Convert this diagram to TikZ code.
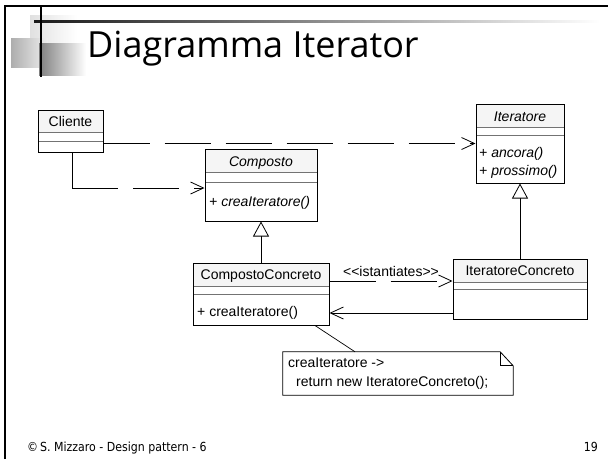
\documentclass[tikz,border=0pt]{standalone}
\usepackage{fontspec}
\setmainfont{Liberation Sans}
\newfontfamily\titlefont{Open Sans}
\newfontfamily\footfont{DejaVu Sans}
\usetikzlibrary{arrows.meta,calc,fit}

% UML class box: name, x1, y1, x2, y2, first separator, second separator
\newcommand{\umlclass}[7]{%
  \fill[namefill] (#2,#3) rectangle (#4,#6);
  \draw[sepline] (#2,#6) -- (#4,#6);
  \draw[sepline] (#2,#7) -- (#4,#7);
  \node[umlbox, fit={(#2,#3) (#4,#5)}] (#1) {};
}

\begin{document}
\begin{tikzpicture}[x=1pt,y=-1pt,
  umlbox/.style={draw=black, line width=1pt, inner sep=0pt},
  namefill/.style={fill=black!4},
  sepline/.style={draw=black!55, line width=0.9pt},
  umltext/.style={inner sep=0pt, font=\fontsize{14}{18}\selectfont},
  umlitalic/.style={umltext, font=\fontsize{14}{18}\selectfont\itshape},
  barb/.style={-{Straight Barb[length=13pt,width=12pt,line width=0.8pt]}},
  dep/.style={draw=black, line width=0.8pt, dash pattern=on 46pt off 15pt},
  assoc/.style={draw=black, line width=0.8pt, barb},
  gen/.style={draw=black, line width=0.8pt,
    -{Triangle[open, length=15pt, width=16pt, fill=white, line width=0.8pt]}},
]
\useasboundingbox (0,0) rectangle (608,459);

% slide decoration
\shade[left color=black!12, right color=white] (30,15) rectangle (77,45);
\shade[left color=black!32, right color=black!6] (11,38) rectangle (48,67);
\shade[left color=black!50, right color=white] (39,43) rectangle (86,75);
\shade[left color=black!90, right color=white] (34,20) rectangle (600,22.2);
\draw[line width=2pt] (40.5,5) -- (40.5,77);
\draw[line width=2.6pt] (5,459) -- (5,6) -- (608,6);

\node[anchor=base west, inner sep=0pt] (title) at (87,57)
  {\titlefont\fontsize{36}{40}\selectfont Diagramma Iterator};

% classes
\umlclass{cli}{38}{110}{103}{152}{132}{141}
\umlclass{comp}{205}{149}{317}{221}{172}{182}
\umlclass{it}{476}{104}{564}{183}{127}{135}
\umlclass{cc}{193}{263}{329}{325}{286}{294}
\umlclass{ic}{453}{259}{587}{319}{282}{289}

\node[umltext, anchor=base] (cli-name) at (70.5,126) {Cliente};
\node[umlitalic, anchor=base] (comp-name) at (261,166) {Composto};
\node[umlitalic, anchor=base west] (comp-op) at (209,206) {+ creaIteratore()};
\node[umlitalic, anchor=base] (it-name) at (520,121) {Iteratore};
\node[umlitalic, anchor=base west] (it-op1) at (479,157) {+ ancora()};
\node[umlitalic, anchor=base west] (it-op2) at (479,175) {+ prossimo()};
\node[umltext, anchor=base] (cc-name) at (261,279) {CompostoConcreto};
\node[umltext, anchor=base west] (cc-op) at (197,316) {+ creaIteratore()};
\node[umltext, anchor=base] (ic-name) at (520,275) {IteratoreConcreto};

% note
\node[inner sep=0pt, minimum width=230pt, minimum height=43pt] (note) at (398,373.5) {};
\draw[line width=0.8pt, fill=white]
  (note.north west) -- ([xshift=-13pt]note.north east)
  -- ([yshift=-14pt]note.north east) -- (note.south east)
  -- (note.south west) -- cycle;
\draw[line width=0.8pt] ([xshift=-13pt]note.north east)
  -- ([xshift=-13pt,yshift=-14pt]note.north east) -- ([yshift=-14pt]note.north east);
\node[umltext, anchor=base west] (note-l1) at (288,367) {creaIteratore ->};
\node[umltext, anchor=base west] (note-l2) at (296,386) {return new IteratoreConcreto();};

% connectors
\draw[dep, barb] (cli.east |- it.west) -- (it.west);
\coordinate (corner) at ([xshift=1.5pt]cli.south |- comp.west);
\coordinate (corner) at ([yshift=-3pt]corner);
\draw[dep] ([xshift=1.5pt]cli.south) -- (corner);
\draw[dep, barb] (corner) -- (corner -| comp.west);
\draw[gen] (cc.north) -- (comp.south);
\draw[gen] (ic.north) -- (it.south);
\coordinate (inst) at ([yshift=13pt]cc.east);
\draw[dep, barb] (inst) -- node[umltext, above=4pt] (inst-label)
  {<\kern0pt<istantiates>\kern0pt>} (inst -| ic.west);
\coordinate (back) at ([yshift=-24pt]ic.west);
\draw[assoc] (back) -- (back -| cc.east);
\draw[line width=0.7pt] ([xshift=54pt]cc.south) -- ([xshift=-43pt]note.north);

% footer
\node[anchor=base west, inner sep=0pt] (footer) at (27,451)
  {\footfont\fontsize{12.5}{14}\selectfont\scalebox{0.88}[1]{\textcopyright\,S. Mizzaro - Design pattern - 6}};
\node[anchor=base east, inner sep=0pt] (pageno) at (598,451)
  {\footfont\fontsize{12.5}{14}\selectfont\scalebox{0.88}[1]{19}};
\end{tikzpicture}
\end{document}
